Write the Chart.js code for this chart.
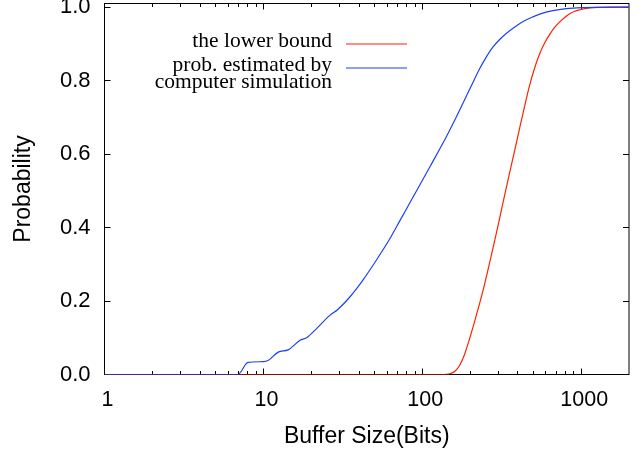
<!DOCTYPE html>
<html lang="en">
<head>
  <meta charset="UTF-8" />
  <title>Buffer Size vs Probability</title>
  <style>
    html, body { margin: 0; padding: 0; background: #fff; }
    #wrap { width: 640px; height: 453px; }
  </style>
</head>
<body>
  <div id="wrap"><canvas id="probChart" width="640" height="453"></canvas></div>

  <script src="https://cdn.jsdelivr.net/npm/chart.js"></script>
  <script>
    // values
    const boundX = [1, 135, 149, 160, 172, 185, 199, 214, 230, 247, 266, 286, 307, 330, 355, 382, 410, 441, 474, 510,
                    548, 590, 634, 681, 733, 788, 847, 910, 979, 1131, 1308, 1511, 2000];
    const boundP = [0, 0, 0.002, 0.008, 0.025, 0.056, 0.099, 0.146, 0.195, 0.247, 0.306, 0.366, 0.426, 0.488, 0.550, 0.611, 0.671, 0.731, 0.788, 0.835,
                    0.873, 0.903, 0.926, 0.945, 0.960, 0.972, 0.982, 0.989, 0.993, 0.998, 0.9995, 1.0, 1.0];

    const simX = [1, 6.9, 8.0, 10.0, 10.7, 12.4, 14.3, 17, 18.7, 21.6, 26.2, 29.4, 35.0, 42.3, 51.0, 61.8, 73.2, 87.5, 111.5,
                  142, 160, 180.6, 204, 230, 251, 278, 307, 339, 382, 431, 486, 548, 662, 807, 1022, 1308, 2000];
    const simP = [0, 0, 0.033, 0.035, 0.038, 0.061, 0.067, 0.093, 0.10, 0.125, 0.161, 0.177, 0.211, 0.257, 0.309, 0.366, 0.423, 0.483, 0.565,
                  0.648, 0.692, 0.739, 0.787, 0.833, 0.862, 0.891, 0.912, 0.929, 0.946, 0.961, 0.972, 0.981, 0.9906, 0.9963, 0.999, 0.9997, 1.0];

    const xTicks = [1, 10, 100, 1000];
    const yTicks = [0, 0.2, 0.4, 0.6, 0.8, 1.0];

    const sansFont = '"Liberation Sans", Arial, Helvetica, sans-serif';
    const serifFont = '"Liberation Serif", "Times New Roman", serif';

    // gnuplot style box with inward tick marks
    const frameTicks = {
      id: 'frameTicks',
      beforeDatasetsDraw(chart) {
        const { ctx, chartArea: a, scales: { x, y } } = chart;
        ctx.save();
        ctx.strokeStyle = '#000';
        ctx.lineWidth = 1;
        ctx.strokeRect(a.left, a.top, a.right - a.left, a.bottom - a.top);
        ctx.beginPath();
        yTicks.forEach(v => {
          const py = Math.floor(y.getPixelForValue(v)) + 0.5;
          ctx.moveTo(a.left, py); ctx.lineTo(a.left + 6, py);
          ctx.moveTo(a.right, py); ctx.lineTo(a.right - 6, py);
        });
        for (let d = 1; d <= 1000; d *= 10) {
          for (let k = 1; k <= 9; k++) {
            const v = d * k;
            if (v >= x.max) break;
            const px = Math.floor(x.getPixelForValue(v)) + 0.5;
            const len = k === 1 ? 6 : 3.5;
            ctx.moveTo(px, a.bottom); ctx.lineTo(px, a.bottom - len);
            ctx.moveTo(px, a.top); ctx.lineTo(px, a.top + len);
          }
        }
        ctx.stroke();
        ctx.restore();
      }
    };

    // key at upper left: text right aligned, sample line to its right
    const sideLegend = {
      id: 'sideLegend',
      afterDatasetsDraw(chart, args, opts) {
        const { ctx } = chart;
        ctx.save();
        ctx.font = '21.5px ' + serifFont;
        ctx.fillStyle = '#000';
        ctx.textAlign = 'right';
        ctx.textBaseline = 'alphabetic';
        let base = opts.top;
        chart.data.datasets.forEach(ds => {
          const lines = Array.isArray(ds.label) ? ds.label : [ds.label];
          ctx.strokeStyle = ds.borderColor;
          ctx.lineWidth = 1.2;
          ctx.beginPath();
          ctx.moveTo(opts.lineStart, base - 2.5);
          ctx.lineTo(opts.lineEnd, base - 2.5);
          ctx.stroke();
          lines.forEach((t, i) => ctx.fillText(t, opts.textRight, base + i * 17));
          base += 24;
        });
        ctx.restore();
      }
    };

    const ctx = document.getElementById('probChart').getContext('2d');
    new Chart(ctx, {
      type: 'line',
      data: {
        datasets: [{
          label: 'the lower bound',
          data: boundX.map((x, i) => ({ x: x, y: boundP[i] })),
          borderColor: '#ff2200',
          borderWidth: 1.2,
          pointRadius: 0,
          fill: false,
          cubicInterpolationMode: 'monotone',
          order: 1
        }, {
          label: ['prob. estimated by', 'computer simulation'],
          data: simX.map((x, i) => ({ x: x, y: simP[i] })),
          borderColor: '#1a40ff',
          borderWidth: 1.2,
          pointRadius: 0,
          fill: false,
          cubicInterpolationMode: 'monotone',
          order: 0
        }]
      },
      options: {
        responsive: false,
        animation: false,
        layout: { padding: { top: 3.5, right: 11, left: 0, bottom: 0 } },
        plugins: {
          legend: { display: false },
          tooltip: { enabled: false },
          sideLegend: { top: 46.5, textRight: 332, lineStart: 346, lineEnd: 407 }
        },
        scales: {
          x: {
            type: 'logarithmic',
            min: 1,
            max: 2000,
            grid: { display: false, drawTicks: false },
            border: { display: false },
            afterBuildTicks: s => { s.ticks = xTicks.map(v => ({ value: v })); },
            afterFit: s => { s.height = 78.5; s.paddingLeft = 0; s.paddingRight = 0; },
            ticks: {
              color: '#000',
              font: { family: sansFont, size: 21.5 },
              padding: 13,
              labelOffset: 3,
              maxRotation: 0,
              autoSkip: false,
              callback: v => String(v)
            },
            title: {
              display: true,
              text: 'Buffer Size(Bits)',
              color: '#000',
              font: { family: sansFont, size: 23 },
              padding: { top: 0, bottom: 2.5 }
            }
          },
          y: {
            min: 0,
            max: 1.01,
            grid: { display: false, drawTicks: false },
            border: { display: false },
            afterBuildTicks: s => { s.ticks = yTicks.map(v => ({ value: v })); },
            afterFit: s => { s.width = 104.5; s.paddingTop = 0; s.paddingBottom = 0; },
            ticks: {
              color: '#000',
              font: { family: sansFont, size: 22 },
              padding: 14,
              callback: v => v.toFixed(1)
            },
            title: {
              display: true,
              text: 'Probability',
              color: '#000',
              font: { family: sansFont, size: 23 },
              padding: { top: 9.5, bottom: 0 }
            }
          }
        }
      },
      plugins: [frameTicks, sideLegend]
    });
  </script>
</body>
</html>
